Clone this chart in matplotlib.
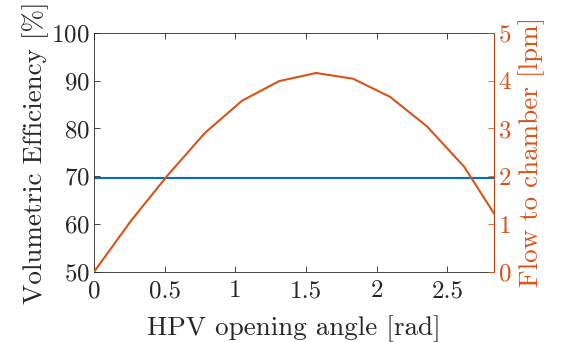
import numpy as np
import matplotlib
matplotlib.use("Agg")
import matplotlib.pyplot as plt

plt.rcParams['font.family'] = 'cmr10'
plt.rcParams['mathtext.fontset'] = 'cm'
plt.rcParams['axes.formatter.use_mathtext'] = True

angle = [0, 0.2618, 0.5236, 0.7854, 1.0472, 1.3090, 1.5708, 1.8326, 2.0944, 2.3562, 2.6180, 2.8274]
flow = [0, 1.07, 2.03, 2.91, 3.58, 3.99, 4.16, 4.04, 3.66, 3.04, 2.20, 1.23]
efficiency = [69.7] * len(angle)

blue = (0, 0.447, 0.741)
orange = (0.85, 0.325, 0.098)
dark = (0.15, 0.15, 0.15)

fig = plt.figure(figsize=(5.63, 3.42), dpi=100)
ax = fig.add_axes([0.167, 0.205, 0.71, 0.699])
ax.plot(angle, efficiency, color=blue, lw=1.5)
ax.set_xlim(0, angle[-1])
ax.set_ylim(50, 100)
ax.set_yticks([50, 60, 70, 80, 90, 100])
ax.set_xticks([0, 0.5, 1, 1.5, 2, 2.5])
ax.set_xticklabels(['0', '0.5', '1', '1.5', '2', '2.5'])
ax.set_xlabel('HPV opening angle [rad]', fontsize=19.5, color=dark, labelpad=9)
ax.set_ylabel('Volumetric Efficiency [%]', fontsize=19.5, color=dark, labelpad=2)
ax.tick_params(direction='in', length=4, width=0.6, labelsize=18, colors=dark, top=True, pad=3)
ax.tick_params(axis='x', pad=6)
ax.tick_params(axis='y', right=False)
for s in ['left', 'bottom', 'top']:
    ax.spines[s].set_color(dark)
    ax.spines[s].set_linewidth(0.6)

ax2 = ax.twinx()
ax2.plot(angle, flow, color=orange, lw=1.5)
ax2.set_ylim(0, 5)
ax2.set_yticks([0, 1, 2, 3, 4, 5])
ax2.set_ylabel('Flow to chamber [lpm]', fontsize=19.5, color=orange, labelpad=5)
ax2.tick_params(direction='in', length=4, width=0.6, labelsize=18, colors=orange, pad=3)
ax2.spines['right'].set_color(orange)
ax2.spines['right'].set_linewidth(0.6)
ax2.spines['left'].set_visible(False)
ax2.spines['top'].set_visible(False)
ax2.spines['bottom'].set_visible(False)

fig.savefig('out.png', dpi=100)
